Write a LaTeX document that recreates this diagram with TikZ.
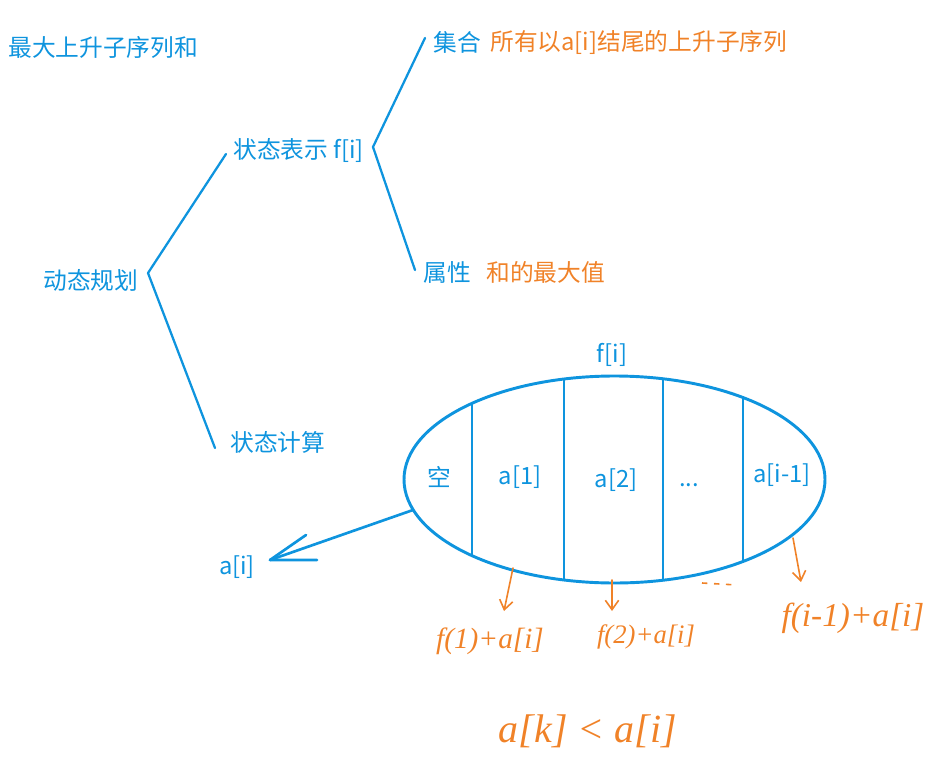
\documentclass[tikz,border=0pt]{standalone}
\usepackage{fontspec}
\setmainfont{Noto Sans CJK SC}
\newfontfamily\handfont{Liberation Serif}
\usetikzlibrary{arrows.meta}
\definecolor{blu}{RGB}{14,148,222}
\definecolor{org}{RGB}{240,130,40}
\begin{document}
\begin{tikzpicture}[x=0.75pt,y=-0.75pt,
  lbl/.style={text=blu, font=\fontsize{17.8}{20}\selectfont, inner sep=0pt, anchor=west},
  olbl/.style={text=org, font=\fontsize{17.8}{20}\selectfont, inner sep=0pt, anchor=west},
  clbl/.style={text=blu, font=\fontsize{17.8}{20}\selectfont, inner sep=0pt, anchor=center},
  brk/.style={draw=blu, line width=1.7pt, line cap=round, line join=round},
  thick blue/.style={draw=blu, line width=2pt, line cap=round, line join=round},
  hand/.style={text=org, inner sep=0pt, anchor=center},
  harrow/.style={draw=org, line width=1.2pt, line cap=round, -{Straight Barb[length=7pt,width=10pt]}}
]
\useasboundingbox (0,0) rectangle (938,763);

% texts
\node[lbl] (title) at (8,47) {最大上升子序列和};
\node[lbl] (dp) at (43,280) {动态规划};
\node[lbl] (rep) at (233,151) {状态表示 f[i]};
\node[lbl] (calc) at (230,442) {状态计算};
\node[lbl] (set) at (433,42) {集合};
\node[olbl] (setv) at (490,42) {所有以a[i]结尾的上升子序列};
\node[lbl] (prop) at (423,272) {属性};
\node[olbl] (propv) at (486,272) {和的最大值};

% brackets
\coordinate (b1t) at (226,154);
\coordinate (b1) at (148,273);
\coordinate (b1b) at (215,448);
\draw[brk] (b1t) -- (b1) -- (b1b);
\coordinate (b2t) at (425,38);
\coordinate (b2) at (373,147);
\coordinate (b2b) at (415,270);
\draw[brk] (b2t) -- (b2) -- (b2b);

% ellipse
\coordinate (E) at (614.5,479.5);
\begin{scope}
  \clip (E) ellipse [x radius=210.5, y radius=103.5];
  \foreach \xx in {472,564,663,743} {
    \draw[blu, line width=1.8pt] (\xx,370) -- (\xx,590);
  }
\end{scope}
\draw[blu, line width=2.2pt] (E) ellipse [x radius=210.5, y radius=103.5];

\node[clbl] (fi) at (612,355) {f[i]};
\node[clbl] (emp) at (439,477) {空};
\node[clbl] (a1) at (520,477) {a[1]};
\node[clbl] (a2) at (616,480) {a[2]};
\node[clbl] (dots) at (689,485) {...};
\node[clbl] (aim1) at (782,475) {a[i-1]};

% arrow to a[i]
\node[clbl] (ai) at (237,567) {a[i]};
\coordinate (s) at (413,510);
\coordinate (t) at (270,560);
\coordinate (bu) at (306,535);
\coordinate (bl) at (317,560);
\draw[thick blue] (s) -- (t);
\draw[thick blue] (bu) -- (t) -- (bl);

% orange handwritten part
\coordinate (o1s) at (513,568); \coordinate (o1e) at (504,611);
\coordinate (o2s) at (612,580); \coordinate (o2e) at (612,611);
\coordinate (o3s) at (793,538); \coordinate (o3e) at (801,582);
\draw[harrow] (o1s) -- (o1e);
\draw[harrow] (o2s) -- (o2e);
\draw[harrow] (o3s) -- (o3e);
\coordinate (d1) at (702,583); \coordinate (d2) at (737,585);
\draw[org, line width=1.2pt, dash pattern=on 4pt off 5pt] (d1) -- (d2);

\node[hand, font=\handfont\itshape\fontsize{22}{24}\selectfont] (h1) at (490,641) {f(1)+a[i]};
\node[hand, font=\handfont\itshape\fontsize{20}{22}\selectfont] (h2) at (646,637) {f(2)+a[i]};
\node[hand, font=\handfont\itshape\fontsize{25}{28}\selectfont] (h3) at (853,618) {f(i-1)+a[i]};
\node[hand, font=\handfont\itshape\fontsize{30}{33}\selectfont] (h4) at (588,731) {a[k] < a[i]};
\end{tikzpicture}
\end{document}
